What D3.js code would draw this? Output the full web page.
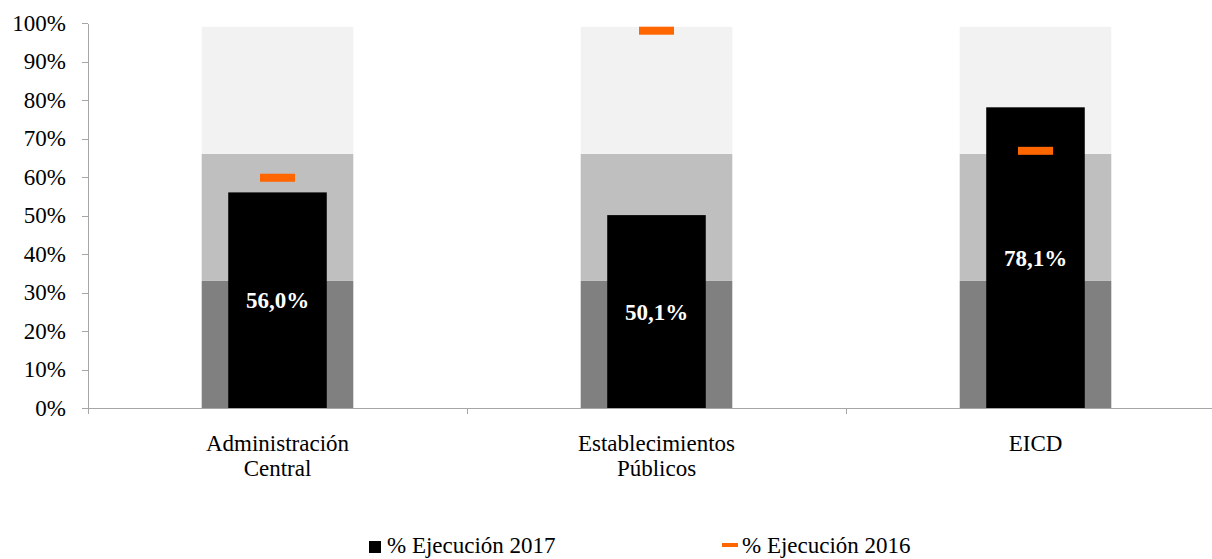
<!DOCTYPE html>
<html>
<head>
<meta charset="utf-8">
<title>% Ejecución 2017 vs 2016</title>
<script src="https://cdn.jsdelivr.net/npm/d3@7"></script>
<style>
body { margin: 0; background: #fff; }
svg text { font-family: "Liberation Serif", "Times New Roman", serif; fill: #000; }
.axis path, .axis line { stroke: #a6a6a6; shape-rendering: crispEdges; }
</style>
</head>
<body>
<script>
// datos
var categories = ["Administración Central", "Establecimientos Públicos", "EICD"];
var labelLines = [["Administración", "Central"], ["Establecimientos", "Públicos"], ["EICD"]];
var ejec2017 = [0.560, 0.501, 0.781];
var ejec2016 = [0.598, 0.980, 0.668];
var bandLimits = [0.33, 0.66, 0.99];
var bandColors = ["#808080", "#bfbfbf", "#f2f2f2"];
var yTicks = [0, 0.1, 0.2, 0.3, 0.4, 0.5, 0.6, 0.7, 0.8, 0.9, 1.0];

var width = 1212, height = 559;

var svg = d3.select("body").append("svg")
    .attr("width", width)
    .attr("height", height);

var x = d3.scaleBand().domain(categories).range([88, 1225]).padding(0);
var y = d3.scaleLinear().domain([0, 1]).range([408, 23]);

var bw = x.bandwidth();
var fmt = function(v) { return d3.format(".1f")(v * 100).replace(".", ",") + "%"; };

// bandas de fondo
categories.forEach(function(c) {
  var cx = x(c) + bw / 2;
  svg.selectAll(null)
      .data(bandLimits)
      .enter().append("rect")
      .attr("x", cx - bw * 0.2)
      .attr("width", bw * 0.4)
      .attr("y", function(d) { return y(d); })
      .attr("height", function(d, i) { return y(i ? bandLimits[i - 1] : 0) - y(d); })
      .attr("fill", function(d, i) { return bandColors[i]; });
});

// barras 2017
svg.selectAll(".bar")
    .data(ejec2017)
    .enter().append("rect")
    .attr("class", "bar")
    .attr("x", function(d, i) { return x(categories[i]) + bw / 2 - bw * 0.13; })
    .attr("width", bw * 0.26)
    .attr("y", function(d) { return y(d); })
    .attr("height", function(d) { return y(0) - y(d); })
    .attr("fill", "#000");

// marcas 2016
svg.selectAll(".mark")
    .data(ejec2016)
    .enter().append("rect")
    .attr("class", "mark")
    .attr("x", function(d, i) { return x(categories[i]) + bw / 2 - 17.5; })
    .attr("width", 35)
    .attr("y", function(d) { return y(d) - 4; })
    .attr("height", 8)
    .attr("fill", "#ff6600");

// etiquetas de datos
svg.selectAll(".lbl")
    .data(ejec2017)
    .enter().append("text")
    .attr("class", "lbl")
    .attr("x", function(d, i) { return x(categories[i]) + bw / 2; })
    .attr("y", function(d) { return y(d / 2); })
    .attr("dy", "0.35em")
    .attr("text-anchor", "middle")
    .style("font-size", "23px")
    .style("font-weight", "bold")
    .style("fill", "#fff")
    .text(fmt);

// eje y
var yAxis = svg.append("g")
    .attr("class", "axis")
    .attr("transform", "translate(88,0)")
    .call(d3.axisLeft(y).tickValues(yTicks).tickSize(6).tickSizeOuter(0).tickPadding(16)
      .tickFormat(d3.format(".0%")));
yAxis.selectAll("text").style("font-size", "23px").style("fill", "#000");

// eje x
var xAxis = svg.append("g").attr("class", "axis");
xAxis.append("line")
    .attr("x1", 88).attr("x2", 1225)
    .attr("y1", y(0)).attr("y2", y(0));
xAxis.selectAll(".xt")
    .data(categories.map(function(c) { return x(c); }).concat([x.range()[1]]))
    .enter().append("line")
    .attr("class", "xt")
    .attr("x1", function(d) { return d; }).attr("x2", function(d) { return d; })
    .attr("y1", y(0)).attr("y2", y(0) + 6);

var cat = svg.selectAll(".cat")
    .data(labelLines)
    .enter().append("text")
    .attr("class", "cat")
    .attr("text-anchor", "middle")
    .style("font-size", "23px")
    .attr("transform", function(d, i) { return "translate(" + (x(categories[i]) + bw / 2) + ",451)"; });
cat.selectAll("tspan")
    .data(function(d) { return d; })
    .enter().append("tspan")
    .attr("x", 0)
    .attr("y", function(d, i) { return i * 25; })
    .text(function(d) { return d; });

// leyenda
var legend = svg.append("g").style("font-size", "23px");
legend.append("rect")
    .attr("x", 369).attr("y", 541).attr("width", 12).attr("height", 12)
    .attr("fill", "#000");
legend.append("text")
    .attr("x", 387).attr("y", 553)
    .text("% Ejecución 2017");
legend.append("rect")
    .attr("x", 722).attr("y", 543).attr("width", 16).attr("height", 4)
    .attr("fill", "#ff6600");
legend.append("text")
    .attr("x", 742).attr("y", 553)
    .text("% Ejecución 2016");
</script>
</body>
</html>
